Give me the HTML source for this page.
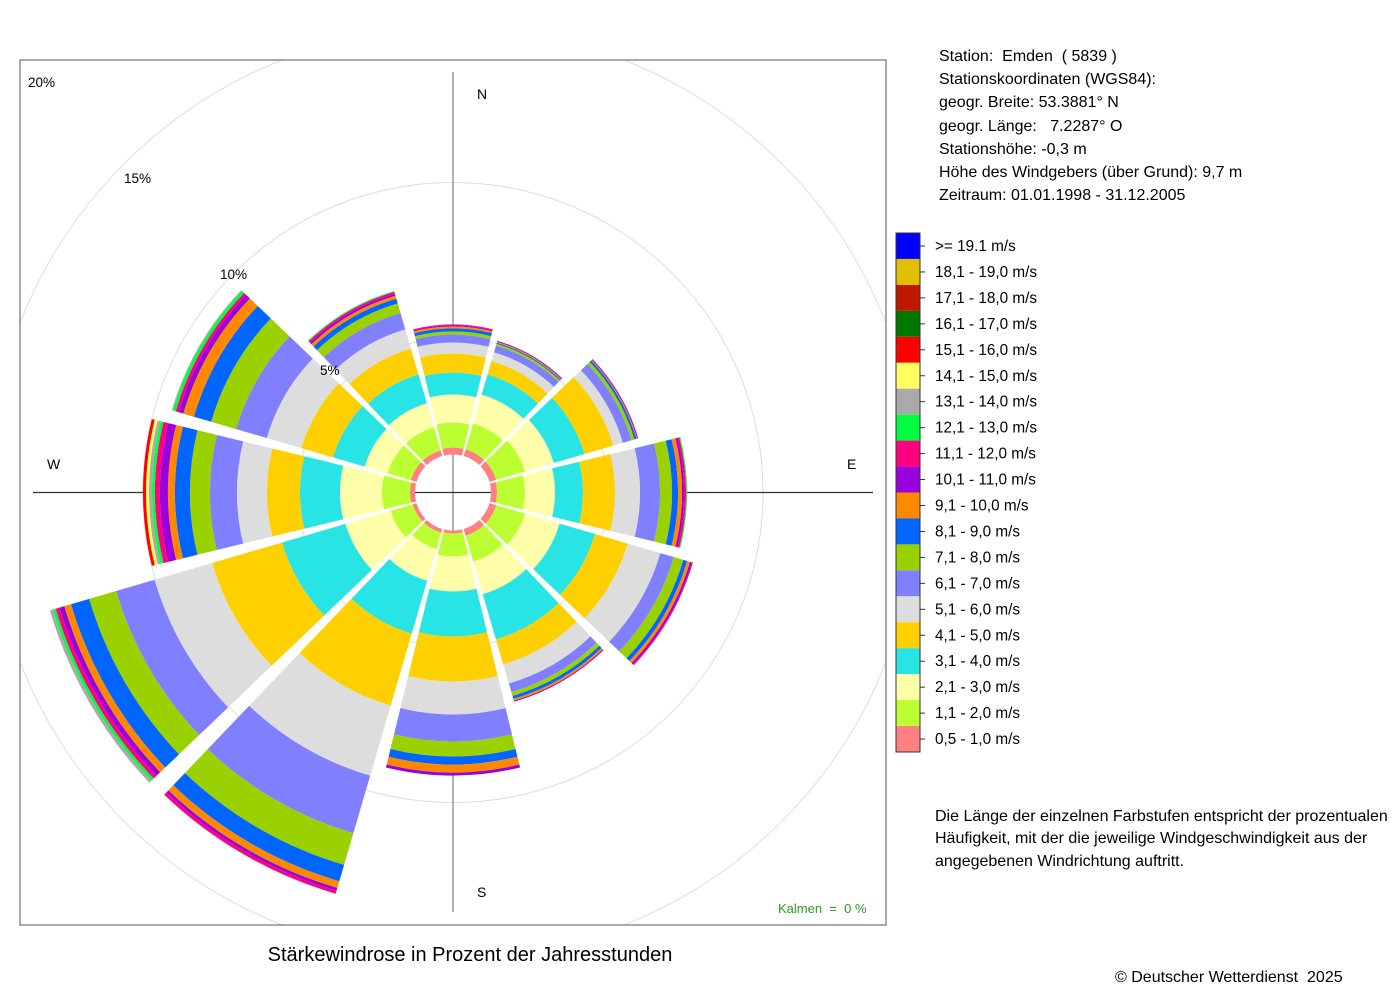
<!DOCTYPE html>
<html><head><meta charset="utf-8"><style>
html,body{margin:0;padding:0;background:#fff;overflow:hidden;width:1400px;height:1000px;}
svg{display:block;font-family:"Liberation Sans",sans-serif;}
text{white-space:pre;}
</style></head><body>
<svg id="s" width="1400" height="1000" viewBox="0 0 1400 1000" xmlns="http://www.w3.org/2000/svg" xml:space="preserve">
<defs><clipPath id="cp"><rect x="20" y="60" width="866" height="865"/></clipPath></defs>
<g clip-path="url(#cp)" fill="none" stroke="#dddddd" stroke-width="1">
<circle cx="453" cy="492.5" r="155"/><circle cx="453" cy="492.5" r="310"/>
<circle cx="453" cy="492.5" r="465"/><circle cx="453" cy="492.5" r="620"/>
</g>
<line x1="453" y1="72" x2="453" y2="912" stroke="#888" stroke-width="1.3"/>
<line x1="33" y1="492.5" x2="873" y2="492.5" stroke="#333" stroke-width="1.3"/>
<g id="rose"></g>
<rect x="20" y="60" width="866" height="865" fill="none" stroke="#555" stroke-width="1"/>
<g font-size="14" fill="#000">
<text x="477" y="99">N</text><text x="847" y="469">E</text><text x="477" y="897">S</text><text x="47" y="469">W</text>
</g>
<g font-size="13.5" fill="#000">
<text x="28" y="87">20%</text><text x="124" y="183">15%</text><text x="220" y="279">10%</text><text x="320" y="375">5%</text>
</g>
<text x="778" y="913" font-size="13" fill="#2a9a2a">Kalmen  =  0 %</text>
<text x="470" y="961" font-size="20" text-anchor="middle" fill="#000">Stärkewindrose in Prozent der Jahresstunden</text>
<g font-size="16" fill="#000">
<text x="939" y="61">Station:  Emden  ( 5839 )</text>
<text x="939" y="84">Stationskoordinaten (WGS84):</text>
<text x="939" y="107">geogr. Breite: 53.3881° N</text>
<text x="939" y="131">geogr. Länge:   7.2287° O</text>
<text x="939" y="154">Stationshöhe: -0,3 m</text>
<text x="939" y="177">Höhe des Windgebers (über Grund): 9,7 m</text>
<text x="939" y="200">Zeitraum: 01.01.1998 - 31.12.2005</text>
<text x="935" y="821">Die Länge der einzelnen Farbstufen entspricht der prozentualen</text>
<text x="935" y="843">Häufigkeit, mit der die jeweilige Windgeschwindigkeit aus der</text>
<text x="935" y="866">angegebenen Windrichtung auftritt.</text>
<text x="1115" y="982">© Deutscher Wetterdienst  2025</text>
</g>
<g id="leg"></g>
</svg>
<script>
var NS="http://www.w3.org/2000/svg";
var cx=453,cy=492.5,r0=38;
var cols=["#ff8080","#bbff33","#ffffaa","#28e4e4","#ffd000","#dddddd","#8080ff","#99d200","#0066ff","#ff8800","#9900dd","#ff0080","#00ff40","#aaaaaa","#ffff60","#ff0000"];
var data=[
[45,70,98,120,139,150,158,161,164,166,167,168],
[45,72,102,123,137,146,153,155,156,157,158],
[45,75,105,137,167,177,186,189,191,192,193],
[44,72,102,130,162,187,207,219,225,229,231,233,234],
[45,75,111,148,182,216,230,240,244,247,249,250],
[45,72,106,153,179,199,208,212,215,217,218],
[41,64,99,144,189,222,249,264,272,280,283],
[42,59,92,147,222,295,355,388,405,412,415,418],
[42,65,112,178,251,311,351,379,398,405,410,414,417,420],
[43,71,113,153,186,216,243,263,278,285,293,298,301,304,307,310],
[44,68,92,125,158,194,226,252,270,281,286,289,292,293],
[44,68,93,123,150,170,187,197,202,205,207,209,210]];
function pt(r,a){a=a*Math.PI/180;return (cx+r*Math.sin(a)).toFixed(2)+","+(cy-r*Math.cos(a)).toFixed(2);}
var g=document.getElementById("rose");
data.forEach(function(d,i){
 var c=i*30,a1=c-13.7,a2=c+13.7,prev=r0;
 d.forEach(function(r,j){
  var p=document.createElementNS(NS,"path");
  p.setAttribute("d","M"+pt(prev,a1)+" L"+pt(r,a1)+" A"+r+","+r+" 0 0 1 "+pt(r,a2)+" L"+pt(prev,a2)+" A"+prev+","+prev+" 0 0 0 "+pt(prev,a1)+"Z");
  p.setAttribute("fill",cols[j]);
  g.appendChild(p);prev=r;
 });
});
var lc=["#0000ff","#e0c000","#c01800","#007700","#ff0000","#ffff60","#aaaaaa","#00ff40","#ff0080","#9900dd","#ff8800","#0066ff","#99d200","#8080ff","#dddddd","#ffd000","#28e4e4","#ffffaa","#bbff33","#ff8080"];
var lt=[">= 19.1 m/s","18,1 - 19,0 m/s","17,1 - 18,0 m/s","16,1 - 17,0 m/s","15,1 - 16,0 m/s","14,1 - 15,0 m/s","13,1 - 14,0 m/s","12,1 - 13,0 m/s","11,1 - 12,0 m/s","10,1 - 11,0 m/s","9,1 - 10,0 m/s","8,1 - 9,0 m/s","7,1 - 8,0 m/s","6,1 - 7,0 m/s","5,1 - 6,0 m/s","4,1 - 5,0 m/s","3,1 - 4,0 m/s","2,1 - 3,0 m/s","1,1 - 2,0 m/s","0,5 - 1,0 m/s"];
var L=document.getElementById("leg"),h="";
for(var i=0;i<20;i++){var y=233+i*25.95;
h+='<rect x="896" y="'+y+'" width="24" height="25.95" fill="'+lc[i]+'"/>';
h+='<line x1="920" y1="'+(y+13)+'" x2="925" y2="'+(y+13)+'" stroke="#333"/>';
h+='<text x="935" y="'+(y+18)+'" font-size="15.3" fill="#000">'+lt[i].replace(">","&gt;")+'</text>';}
h+='<rect x="896" y="233" width="24" height="519" fill="none" stroke="#333"/>';
L.innerHTML=h;
</script>
</body></html>
